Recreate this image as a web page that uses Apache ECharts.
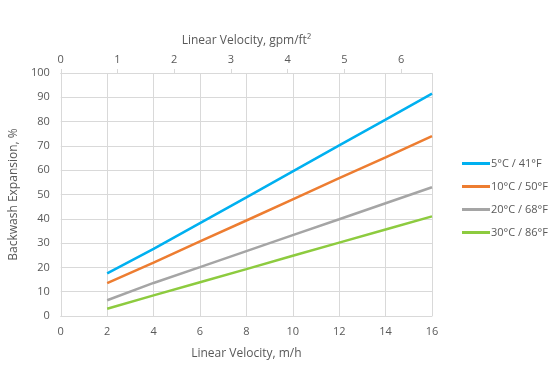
<!DOCTYPE html>
<html><head><meta charset="utf-8">
<script src="https://cdn.jsdelivr.net/npm/echarts@6/dist/echarts.min.js"></script>
<style>html,body{margin:0;padding:0;background:#fff}#c{width:548px;height:386px}</style>
</head><body><div id="c"></div>
<script>
const velocity = [2, 4, 6, 8, 10, 12, 14, 16];
const seriesNames = ['5°C / 41°F', '10°C / 50°F', '20°C / 68°F', '30°C / 86°F'];
const temp5 = [17.5, 27.6, 38.2, 48.8, 59.5, 70.2, 80.8, 91.5];
const temp10 = [13.5, 22.0, 30.7, 39.3, 48.0, 56.7, 65.3, 74.0];
const temp20 = [6.5, 13.6, 20.1, 26.7, 33.3, 39.8, 46.4, 53.0];
const temp30 = [3.0, 8.5, 13.9, 19.3, 24.8, 30.2, 35.6, 41.0];
const colors = ['#00B0F0', '#ED7D31', '#A5A5A5', '#8DCB3F'];
const mhPerGpmFt2 = 2.445;

const FONT = 'Open Sans';
const TXT = '#595959';
const allData = [temp5, temp10, temp20, temp30];
const chart = echarts.init(document.getElementById('c'));
chart.setOption({
  animation: false,
  textStyle: {fontFamily: FONT},
  color: colors,
  grid: {left: 59, right: 116, top: 73, bottom: 70, containLabel: false},
  legend: {
    orient: 'vertical', left: 457, top: 153, itemGap: 12, itemWidth: 28, itemHeight: 3,
    icon: 'rect',
    textStyle: {fontFamily: FONT, fontSize: 11, color: TXT, padding: [0, 0, 0, -4]},
    data: seriesNames
  },
  xAxis: [{
    type: 'value', min: 0, max: 16, interval: 2, position: 'bottom',
    name: 'Linear Velocity, m/h', nameLocation: 'middle', nameGap: 32,
    nameTextStyle: {fontFamily: FONT, fontSize: 12, color: TXT},
    axisLine: {show: true, lineStyle: {color: '#D9D9D9'}},
    axisTick: {show: false},
    axisLabel: {fontFamily: FONT, fontSize: 11, color: TXT, margin: 10},
    splitLine: {show: true, lineStyle: {color: '#D9D9D9'}}
  }, {
    type: 'value', min: 0, max: 16 / mhPerGpmFt2, interval: 1, position: 'top',
    name: 'Linear Velocity, gpm/ft²', nameLocation: 'middle', nameGap: 26,
    nameTextStyle: {fontFamily: FONT, fontSize: 12, color: TXT},
    axisLine: {show: true, lineStyle: {color: '#D9D9D9'}},
    axisTick: {show: true, length: 4, lineStyle: {color: '#D9D9D9'}},
    axisLabel: {fontFamily: FONT, fontSize: 11, color: TXT, margin: 8, showMaxLabel: false},
    splitLine: {show: false}
  }],
  yAxis: {
    type: 'value', min: 0, max: 100, interval: 10,
    name: 'Backwash Expansion, %', nameLocation: 'middle', nameGap: 26,
    nameTextStyle: {fontFamily: FONT, fontSize: 12, color: TXT},
    axisLine: {show: true, lineStyle: {color: '#D9D9D9'}},
    axisTick: {show: false},
    axisLabel: {fontFamily: FONT, fontSize: 11, color: TXT, margin: 11},
    splitLine: {show: true, lineStyle: {color: '#D9D9D9'}}
  },
  series: seriesNames.map((n, i) => ({
    name: n, type: 'line', xAxisIndex: 0, showSymbol: false, symbol: 'none',
    lineStyle: {width: 2.5, color: colors[i]},
    data: velocity.map((v, j) => [v, allData[i][j]])
  }))
});
</script></body></html>
